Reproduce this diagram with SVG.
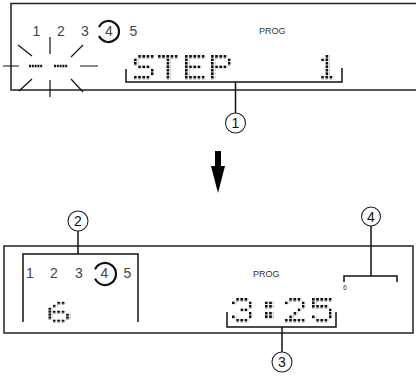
<svg xmlns="http://www.w3.org/2000/svg" width="416" height="376" viewBox="0 0 416 376">
<style>
.panel{fill:none;stroke:#222;stroke-width:1.5}
.br{fill:none;stroke:#111;stroke-width:1.5}
.ray{fill:none;stroke:#111;stroke-width:1.2}
.num{font-family:"Liberation Sans",Arial,sans-serif;font-size:14px;fill:#444;text-anchor:middle}
.prog{font-family:"Liberation Sans",Arial,sans-serif;font-size:9px;fill:#333}
.cn{fill:#fff;stroke:#222;stroke-width:1.1}
.ct{font-family:"Liberation Sans",Arial,sans-serif;font-size:14px;fill:#111;text-anchor:middle}
.arc{fill:none;stroke:#111;stroke-width:2.2}
.g rect{fill:url(#dm)}
.dash{stroke:#111;stroke-width:2.4;stroke-dasharray:2 0.8}
</style>
<defs>
<pattern id="dm" patternUnits="userSpaceOnUse" width="1" height="1"><rect width="0.64" height="0.78" fill="#111"/></pattern>
</defs>

<g id="panel-top">
<path class="panel" d="M416,3.5 H11 V90 H416"/>
<text class="num" x="36.5" y="36">1</text>
<text class="num" x="61" y="36">2</text>
<text class="num" x="85" y="36">3</text>
<text class="num" x="109" y="36">4</text>
<path class="arc" d="M99.06,26.9 A10.5,10.5 0 1 1 99.06,36.1"/>
<text class="num" x="133.5" y="36">5</text>
<text class="prog" x="259" y="34">PROG</text>
<line class="dash" x1="29" y1="66" x2="42.5" y2="66"/>
<line class="dash" x1="54" y1="66" x2="67.5" y2="66"/>
<g id="burst">
<path class="ray" d="M3,66 H19 M80,66 H98 M50,37 V54 M50,80 V97 M18,45 L32,56 M71,57 L83,45 M19,91 L32,79 M71,79 L83,92"/>
</g>
<g class="g" transform="translate(134,55) scale(4.2,3.47)">
<rect x="1" y="0" width="4" height="1"/><rect x="0" y="1" width="1" height="2"/><rect x="1" y="3" width="3" height="1"/><rect x="4" y="4" width="1" height="2"/><rect x="0" y="6" width="4" height="1"/>
</g>
<g class="g" transform="translate(158,55) scale(4.2,3.47)">
<rect x="0" y="0" width="5" height="1"/><rect x="2" y="1" width="1" height="6"/>
</g>
<g class="g" transform="translate(185,55) scale(4.2,3.47)">
<rect x="0" y="0" width="5" height="1"/><rect x="0" y="1" width="1" height="5"/><rect x="1" y="3" width="3" height="1"/><rect x="0" y="6" width="5" height="1"/>
</g>
<g class="g" transform="translate(211,55) scale(4.2,3.47)">
<rect x="0" y="0" width="4" height="1"/><rect x="0" y="1" width="1" height="6"/><rect x="4" y="1" width="1" height="2"/><rect x="1" y="3" width="3" height="1"/>
</g>
<g class="g" transform="translate(317,55) scale(4.2,3.47)">
<rect x="2" y="0" width="1" height="6"/><rect x="1" y="1" width="1" height="1"/><rect x="1" y="6" width="3" height="1"/>
</g>
</g>

<g id="arrow">
<rect x="215" y="151" width="6" height="17" fill="#000"/>
<polygon points="211,166 225,166 218,193" fill="#000"/>
</g>

<g id="panel-bottom">
<rect class="panel" x="4" y="246" width="409" height="87"/>
<text class="num" x="30" y="278">1</text>
<text class="num" x="54" y="278">2</text>
<text class="num" x="79" y="278">3</text>
<text class="num" x="104.5" y="278">4</text>
<path class="arc" d="M95.03,269.35 A11,11 0 1 1 95.03,278.65"/>
<text class="num" x="127.5" y="278">5</text>
<text class="prog" x="253" y="277">PROG</text>
<text x="343" y="290" style="font-family:'Liberation Sans',Arial,sans-serif;font-size:7px;fill:#444">6</text>
<g class="g" transform="translate(48.3,301.7) scale(4.45,2.97)">
<rect x="2" y="0" width="2" height="1"/><rect x="1" y="1" width="1" height="1"/><rect x="0" y="2" width="1" height="4"/><rect x="1" y="3" width="3" height="1"/><rect x="4" y="4" width="1" height="2"/><rect x="1" y="6" width="3" height="1"/>
</g>
<g class="g" transform="translate(232,298) scale(4.2,3.47)">
<rect x="1" y="0" width="3" height="1"/><rect x="0" y="1" width="1" height="1"/><rect x="4" y="1" width="1" height="2"/><rect x="2" y="3" width="2" height="1"/><rect x="4" y="4" width="1" height="2"/><rect x="0" y="5" width="1" height="1"/><rect x="1" y="6" width="3" height="1"/>
</g>
<g class="g" transform="translate(265,298) scale(4.2,3.47)">
<rect x="0" y="1" width="2" height="2"/><rect x="0" y="4" width="2" height="2"/>
</g>
<g class="g" transform="translate(285,298) scale(4.2,3.47)">
<rect x="1" y="0" width="3" height="1"/><rect x="0" y="1" width="1" height="1"/><rect x="4" y="1" width="1" height="2"/><rect x="3" y="3" width="1" height="1"/><rect x="2" y="4" width="1" height="1"/><rect x="1" y="5" width="1" height="1"/><rect x="0" y="6" width="5" height="1"/>
</g>
<g class="g" transform="translate(312,298) scale(4.2,3.47)">
<rect x="0" y="0" width="5" height="1"/><rect x="0" y="1" width="1" height="2"/><rect x="1" y="2" width="3" height="1"/><rect x="4" y="3" width="1" height="3"/><rect x="0" y="5" width="1" height="1"/><rect x="1" y="6" width="3" height="1"/>
</g>
</g>

<g id="connectors">
<path class="br" d="M126,69 V82 H342 V68"/>
<path class="br" d="M235.5,82 V113"/>
<path class="br" d="M23,322 V254 H138 V322"/>
<path class="br" d="M78,254 V231"/>
<path class="br" d="M227,312 V327 H336 V312"/>
<path class="br" d="M282,327 V352"/>
<path class="br" d="M344,282 V276 H397 V282"/>
<path class="br" d="M371,276 V226"/>
</g>

<g id="callout-1"><circle class="cn" cx="235.5" cy="123" r="10"/><text class="ct" x="235.5" y="128">1</text></g>
<g id="callout-2"><circle class="cn" cx="78" cy="221" r="10"/><text class="ct" x="78" y="226">2</text></g>
<g id="callout-3"><circle class="cn" cx="282" cy="362" r="10"/><text class="ct" x="282" y="367">3</text></g>
<g id="callout-4"><circle class="cn" cx="371" cy="216.5" r="9.5"/><text class="ct" x="371" y="221.5">4</text></g>
</svg>
